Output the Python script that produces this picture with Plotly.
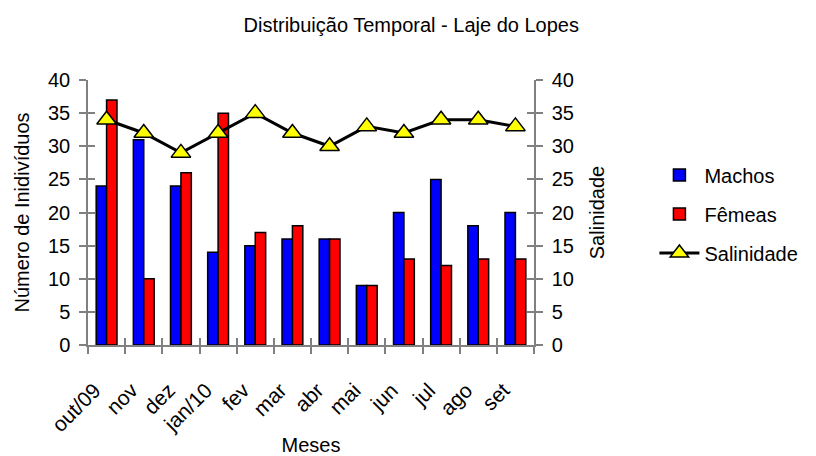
import plotly.graph_objects as go

months = ["out/09", "nov", "dez", "jan/10", "fev", "mar", "abr", "mai", "jun", "jul", "ago", "set"]
machos = [24, 31, 24, 14, 15, 16, 16, 9, 20, 25, 18, 20]
femeas = [37, 10, 26, 35, 17, 18, 16, 9, 13, 12, 13, 13]
salinidade = [34, 32, 29, 32, 35, 32, 30, 33, 32, 34, 34, 33]
y_ticks = [0, 5, 10, 15, 20, 25, 30, 35, 40]

FONT = "Liberation Sans, Arial, sans-serif"
AXIS_GRAY = "#808080"

fig = go.Figure()
fig.add_trace(go.Bar(x=months, y=machos, name="Machos", legendgroup="a",
                     marker=dict(color="#0000FF", line=dict(color="black", width=1.5))))
fig.add_trace(go.Bar(x=months, y=femeas, name="Fêmeas", legendgroup="b",
                     marker=dict(color="#FF0000", line=dict(color="black", width=1.5))))
fig.add_trace(go.Scatter(x=months, y=salinidade, name="Salinidade", yaxis="y2", legendgroup="c",
                         mode="lines+markers",
                         line=dict(color="black", width=3),
                         marker=dict(symbol="triangle-up", size=17, color="#FFFF00",
                                     line=dict(color="black", width=1.5))))

n = len(months)
boundaries = [i - 0.5 for i in range(n + 1)]

common_y = dict(range=[0, 40], tickvals=y_ticks, showgrid=False, zeroline=False,
                linecolor=AXIS_GRAY, linewidth=1.5, tickcolor=AXIS_GRAY, tickwidth=1.5,
                ticklen=7, ticklabelstandoff=5, automargin=False,
                tickfont=dict(family=FONT, size=20, color="black"))

fig.update_layout(
    width=816, height=456,
    margin=dict(l=88, r=273, t=80, b=111),
    paper_bgcolor="white", plot_bgcolor="white",
    font=dict(family=FONT, color="black"),
    title=dict(text="Distribuição Temporal - Laje do Lopes", x=0.504,
               xanchor="center", y=1 - 25 / 456, yanchor="middle",
               font=dict(family=FONT, size=20, color="black")),
    barmode="group", bargap=0.44, bargroupgap=0,
    xaxis=dict(type="category", categoryorder="array", categoryarray=months,
               range=[-0.5, n - 0.5], tickson="boundaries", ticks="outside", ticklen=7,
               tickcolor=AXIS_GRAY, tickwidth=1.5, showline=True, linecolor=AXIS_GRAY,
               linewidth=1.5, showgrid=False, tickangle=-45, automargin=False,
               ticklabelstandoff=23, ticklabelshift=-12,
               tickfont=dict(family=FONT, size=21, color="black"),
               title=dict(text="Meses", font=dict(family=FONT, size=20, color="black"),
                          standoff=14)),
    xaxis2=dict(overlaying="x", range=[-0.5, n - 0.5], tickvals=boundaries, ticks="inside",
                ticklen=7, tickcolor=AXIS_GRAY, tickwidth=1.5, showticklabels=False,
                showline=False, showgrid=False, zeroline=False, side="bottom", anchor="y"),
    yaxis=dict(**common_y, showline=True, ticks="outside",
               title=dict(text="Número de Inidivíduos", font=dict(family=FONT, size=20, color="black"),
                          standoff=13)),
    yaxis2=dict(**common_y, overlaying="y", side="right", showline=True, ticks="outside",
                title=dict(text="Salinidade", font=dict(family=FONT, size=20, color="black"),
                           standoff=17)),
    yaxis3=dict(range=[0, 40], tickvals=y_ticks, overlaying="y", side="left", ticks="inside",
                ticklen=7, tickcolor=AXIS_GRAY, tickwidth=1.5, showticklabels=False,
                showline=False, showgrid=False, zeroline=False),
    yaxis4=dict(range=[0, 40], tickvals=y_ticks, overlaying="y", side="right", ticks="inside",
                ticklen=7, tickcolor=AXIS_GRAY, tickwidth=1.5, showticklabels=False,
                showline=False, showgrid=False, zeroline=False),
    legend=dict(x=1.27, y=0.715, xanchor="left", yanchor="top",
                font=dict(family=FONT, size=20, color="black"),
                traceorder="grouped", tracegroupgap=10, itemwidth=40,
                bgcolor="rgba(0,0,0,0)"),
    showlegend=True,
)

# invisible helper traces that activate the overlay tick axes
fig.add_trace(go.Scatter(x=[None], y=[None], xaxis="x2", yaxis="y3", showlegend=False, hoverinfo="skip"))
fig.add_trace(go.Scatter(x=[None], y=[None], yaxis="y4", showlegend=False, hoverinfo="skip"))

fig.write_html("out.html")
